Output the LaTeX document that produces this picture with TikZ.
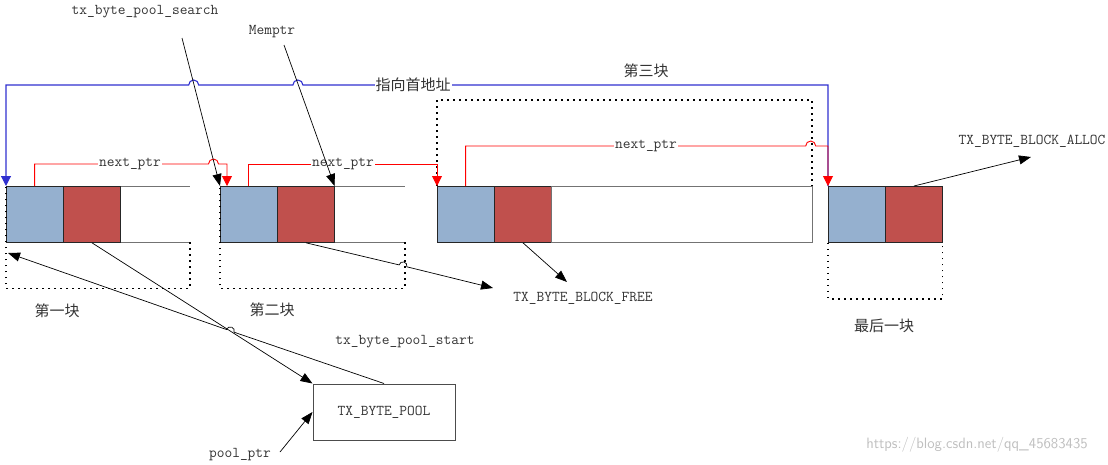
\documentclass[tikz,border=0pt]{standalone}
\usepackage{fontspec}
\usetikzlibrary{arrows.meta}
\newfontfamily\cjk{Noto Sans CJK SC}
\definecolor{hdrblue}{HTML}{95B0CF}
\definecolor{ptrred}{HTML}{C0504D}
\definecolor{headblue}{HTML}{3030D0}
\newcommand{\memblock}[2]{
  \node [nextcell] (N#1) at (#2,186) {};
  \node [poolcell] (P#1) at (N#1.north east) {};
}

\begin{document}
\begin{tikzpicture}[x=1pt,y=-1pt,
    >={Triangle[length=12pt,width=9pt]},
    txt/.style={font=\fontsize{15}{18}\selectfont\ttfamily,text=black!80},
    han/.style={font=\fontsize{15}{18}\selectfont\cjk,text=black!80},
    nextcell/.style={draw=black!85,line width=.8pt,fill=hdrblue,anchor=north west,
      minimum width=56.5pt,minimum height=56pt,inner sep=0pt},
    poolcell/.style={nextcell,fill=ptrred},
    bodycell/.style={anchor=north west,minimum height=56pt,inner sep=0pt},
    body/.style={draw=black!55,line width=1pt},
    dots/.style={line width=1.6pt,dash pattern=on 1.6pt off 4.4pt},
    nextptr/.style={red,line width=.9pt,-{Triangle[length=10pt,width=10pt]}},
    headptr/.style={headblue,line width=1.1pt,-{Triangle[length=10pt,width=10pt]}},
    ptr/.style={black,line width=.7pt,->}]
    \useasboundingbox (0,0) rectangle (1108,464);
    % the four blocks
    \memblock{1}{6}
    \memblock{2}{220}
    \memblock{3}{437}
    \memblock{4}{828}
    \node [bodycell,minimum width=69pt] (B1) at (P1.north east) {};
    \node [bodycell,minimum width=70pt] (B2) at (P2.north east) {};
    \node [bodycell,minimum width=260pt] (B3) at (P3.north east) {};
    \draw [body] (B1.north west) -- (B1.north east) (B1.south west) -- (B1.south east);
    \draw [body] (B2.north west) -- (B2.north east) (B2.south west) -- (B2.south east);
    \draw [body] (B3.north west) rectangle (B3.south east);
    \draw [dots] (B1.south east) -- ++(0,46) -| (N1.north west);
    \draw [dots] (B2.south east) -- ++(0,46) -| (N2.north west);
    \draw [dots] (N3.north west) -- ++(0,-86) -| (B3.north east);
    \draw [dots] (N4.south west) -- ++(0,56) -| (P4.south east);
    \node [han] (T1) at (57,311) {第一块};
    \node [han] (T2) at (272,310) {第二块};
    \node [han] (T3) at (646,71) {第三块};
    \node [han] (T4) at (884,326) {最后一块};
    % next_ptr and the way back to the first block
    \draw [headptr] (N4.north west) |- (302.9,85) arc[start angle=0,end angle=180,radius=5pt]
      -- (198.7,85) arc[start angle=0,end angle=180,radius=5pt] -| (N1.north west);
    \node [han,fill=white,inner sep=1pt] (HEAD) at (413,85) {指向首地址};
    \draw [nextptr] (N1.north) |- (208.5,164) arc[start angle=180,end angle=0,radius=5pt]
      -| ([xshift=7pt]N2.north west);
    \draw [nextptr] (N2.north) -- ++(0,-22) -| (N3.north west);
    \draw [nextptr] (N3.north) -- ++(0,-40) -- (805.7,146)
      arc[start angle=180,end angle=0,radius=5pt] -| (N4.north west);
    \node [txt,fill=white,inner sep=1pt] (L1) at (130,164) {next\_ptr};
    \node [txt,fill=white,inner sep=1pt] (L2) at (343,164) {next\_ptr};
    \node [txt,fill=white,inner sep=1pt] (L3) at (646,146) {next\_ptr};
    % pool and its pointers
    \node [draw=black!70,line width=1pt,minimum width=142pt,minimum height=56pt,txt] (POOL) at (384,412) {TX\_BYTE\_POOL};
    \node [txt] (SEARCH) at (145,12) {tx\_byte\_pool\_search};
    \node [txt] (MEM) at (272,32) {Memptr};
    \node [txt] (ALLOC) at (1032,141) {TX\_BYTE\_BLOCK\_ALLOC};
    \node [txt] (FREE) at (583,298) {TX\_BYTE\_BLOCK\_FREE};
    \node [txt] (START) at (405,342) {tx\_byte\_pool\_start};
    \node [txt] (PTR) at (240,455) {pool\_ptr};
    \coordinate (searchTail) at (182,38);
    \coordinate (memTail) at (284,45);
    \coordinate (allocTip) at (1031,157);
    \coordinate (freeTipA) at (493,288);
    \coordinate (freeTipB) at (567,282);
    \coordinate (startTip) at (8,253);
    \coordinate (poolTail) at (280,452);
    \draw [ptr] (searchTail) -- (N2.north west);
    \draw [ptr] (memTail) -- (P2.north east);
    \draw [ptr] (P4.north) -- (allocTip);
    \draw [ptr] (P1.south) -- (POOL.north west);
    \draw [ptr] (POOL.north) -- (234.1,332.2) arc[start angle=-19.3,end angle=160.7,radius=4pt] -- (startTip);
    \draw [ptr] (P2.south) -- (399.1,264.9) arc[start angle=166.2,end angle=-13.8,radius=4pt] -- (freeTipA);
    \draw [ptr] (P3.south) -- (freeTipB);
    \draw [ptr] (poolTail) -- (POOL.west);
    \node [font=\fontsize{15}{18}\selectfont\sffamily,text=black!25] (WM) at (977,445) {https://blog.csdn.net/qq\_45683435};
\end{tikzpicture}
\end{document}
